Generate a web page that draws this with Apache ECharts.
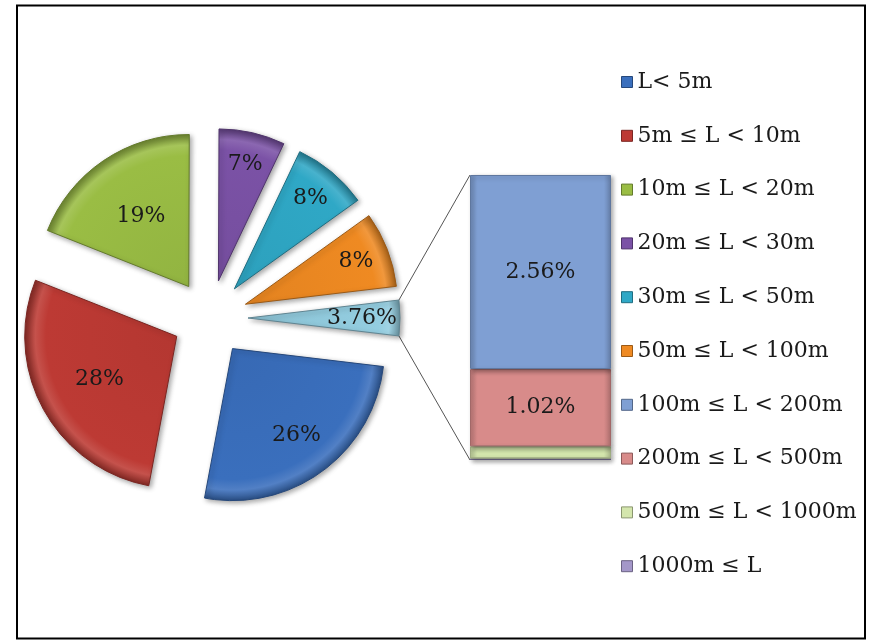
<!DOCTYPE html>
<html>
<head>
<meta charset="utf-8">
<script src="https://cdn.jsdelivr.net/npm/echarts@6/dist/echarts.min.js"></script>
<style>
  html, body { margin: 0; padding: 0; background: #fff; }
  #chart { width: 869px; height: 641px; }
</style>
</head>
<body>
<div id="chart"></div>
<script>
// Length classes shown in the pie (share of all items, %)
const pieNames = ['L< 5m', '5m ≤ L < 10m', '10m ≤ L < 20m', '20m ≤ L < 30m', '30m ≤ L < 50m', '50m ≤ L < 100m'];
const pieValues = [26, 28, 19, 7, 8, 8];
// The long classes, grouped into one slice and broken out in the stacked bar
const otherName = '100m ≤ L';
const barNames = ['100m ≤ L < 200m', '200m ≤ L < 500m', '500m ≤ L < 1000m', '1000m ≤ L'];
const barValues = [2.56, 1.02, 0.16, 0.02];
const otherValue = 3.76;

// Styling
const FONT = 'DejaVu Serif';
const pieColors = ['#3a6fbd', '#bd3a34', '#9abd44', '#7b52a6', '#2fa8c6', '#ef8a22'];
const otherColor = '#93cde0';
const barColors = ['#7f9fd3', '#d88b8a', '#d4e6ad', '#a497c9'];
const labelReach = [0.69, 0.56, 0.54, 0.77, 0.76, 0.76, 0.73]; // label distance along the slice, fraction of radius
const PIE_CENTER = [210, 318];
const PIE_R = 152;
const EXPLODE = 38;

const allPie = pieValues.concat([otherValue]);
const total = allPie.reduce((a, b) => a + b, 0);
const startAngle = -(otherValue / total) * 180; // puts the grouped slice centred on the right
// mid angle (screen, clockwise from east, radians) of each slice
const midAngles = [];
(function () {
  let acc = -startAngle;
  allPie.forEach(v => {
    const span = v / total * 360;
    midAngles.push((acc + span / 2) * Math.PI / 180);
    acc += span;
  });
})();

function shade(hex, f) {
  const n = parseInt(hex.slice(1), 16);
  let r = (n >> 16) & 255, g = (n >> 8) & 255, b = n & 255;
  const m = c => Math.max(0, Math.min(255, Math.round(f < 0 ? c * (1 + f) : c + (255 - c) * f)));
  return 'rgb(' + m(r) + ',' + m(g) + ',' + m(b) + ')';
}

// bevelled fill: flat body, light band and dark rim toward the outer arc
function pieFill(c) {
  return {
    type: 'radial', x: PIE_CENTER[0], y: PIE_CENTER[1], r: PIE_R, global: true,
    colorStops: [
      { offset: 0, color: shade(c, -0.05) },
      { offset: 0.86, color: c },
      { offset: 0.93, color: shade(c, 0.12) },
      { offset: 1, color: shade(c, -0.3) }
    ]
  };
}

const pieData = allPie.map((v, i) => {
  const c = i < pieColors.length ? pieColors[i] : otherColor;
  return {
    name: i < pieNames.length ? pieNames[i] : otherName,
    value: v,
    selected: true,
    itemStyle: {
      color: pieFill(c),
      borderColor: shade(c, -0.35),
      borderWidth: 1
    }
  };
});

const legendColors = {};
pieNames.forEach((n, i) => { legendColors[n] = pieColors[i]; });
barNames.forEach((n, i) => { legendColors[n] = barColors[i]; });

// stacked from the bottom: the longest class sits lowest, 100m–200m on top
const barSeries = barNames.map((n, i) => ({
  name: n,
  type: 'bar',
  stack: 'long',
  barWidth: '100%',
  data: [barValues[i]],
  itemStyle: {
    color: {
      type: 'linear', x: 0, y: 0, x2: 1, y2: 0,
      colorStops: [
        { offset: 0, color: shade(barColors[i], -0.15) },
        { offset: 0.05, color: barColors[i] },
        { offset: 0.95, color: barColors[i] },
        { offset: 1, color: shade(barColors[i], -0.2) }
      ]
    },
    borderColor: shade(barColors[i], -0.25),
    borderWidth: 1,
    shadowBlur: 4,
    shadowColor: 'rgba(0,0,0,0.3)',
    shadowOffsetX: 2,
    shadowOffsetY: 2
  },
  label: {
    show: barValues[i] > 0.5,
    position: 'inside',
    formatter: p => p.value.toFixed(2) + '%',
    fontFamily: FONT,
    fontSize: 22,
    color: '#1a1a1a'
  },
  emphasis: { disabled: true }
})).reverse();

const chart = echarts.init(document.getElementById('chart'), null, { renderer: 'canvas' });

const option = {
  animation: false,
  backgroundColor: '#fff',
  legend: {
    orient: 'vertical',
    left: 621,
    top: 71,
    padding: 0,
    itemWidth: 11,
    itemHeight: 11,
    itemGap: 31.8,
    icon: 'rect',
    data: pieNames.concat(barNames).map(n => ({
      name: n,
      itemStyle: { color: legendColors[n], borderColor: shade(legendColors[n], -0.35), borderWidth: 1 }
    })),
    selectedMode: false,
    textStyle: { fontFamily: FONT, fontSize: 22, color: '#1a1a1a', lineHeight: 22 }
  },
  grid: { left: 470, top: 175, width: 141, height: 285 },
  xAxis: { type: 'category', data: ['long'], show: false },
  yAxis: { type: 'value', min: 0, max: otherValue, show: false },
  series: [
    {
      type: 'pie',
      center: PIE_CENTER,
      radius: PIE_R,
      startAngle: startAngle,
      clockwise: true,
      selectedMode: 'multiple',
      selectedOffset: EXPLODE,
      avoidLabelOverlap: false,
      data: pieData,
      itemStyle: {
        shadowBlur: 5,
        shadowColor: 'rgba(0,0,0,0.35)',
        shadowOffsetX: 2,
        shadowOffsetY: 2
      },
      label: {
        show: true,
        position: 'inside',
        fontFamily: FONT,
        fontSize: 22,
        color: '#1a1a1a',
        formatter: p => (p.dataIndex === allPie.length - 1 ? p.value.toFixed(2) : Math.round(p.value)) + '%'
      },
      labelLine: { show: false },
      labelLayout: p => {
        const a = midAngles[p.dataIndex];
        const k = labelReach[p.dataIndex] - 0.5;
        return { dx: k * PIE_R * Math.cos(a), dy: k * PIE_R * Math.sin(a) };
      },
      emphasis: { disabled: true }
    }
  ].concat(barSeries)
};

chart.setOption(option);

// Connector lines from the grouped slice to the stacked bar, plus the outer frame
(function () {
  const aMid = midAngles[midAngles.length - 1];
  const half = (otherValue / total) * Math.PI;
  const apx = PIE_CENTER[0] + EXPLODE * Math.cos(aMid);
  const apy = PIE_CENTER[1] + EXPLODE * Math.sin(aMid);
  const topCorner = [apx + PIE_R * Math.cos(aMid - half), apy + PIE_R * Math.sin(aMid - half)];
  const botCorner = [apx + PIE_R * Math.cos(aMid + half), apy + PIE_R * Math.sin(aMid + half)];
  const barTop = chart.convertToPixel({ gridIndex: 0 }, ['long', otherValue]);
  const barBot = chart.convertToPixel({ gridIndex: 0 }, ['long', 0]);
  const barLeft = 470;
  chart.setOption({
    graphic: [
      { type: 'line', shape: { x1: topCorner[0], y1: topCorner[1], x2: barLeft, y2: barTop[1] }, style: { stroke: '#555', lineWidth: 1 }, z: 1 },
      { type: 'line', shape: { x1: botCorner[0], y1: botCorner[1], x2: barLeft, y2: barBot[1] }, style: { stroke: '#555', lineWidth: 1 }, z: 1 },
      { type: 'rect', shape: { x: 17, y: 5.5, width: 848, height: 633 }, style: { fill: null, stroke: '#000', lineWidth: 2 }, z: 100 }
    ]
  });
})();
</script>
</body>
</html>
